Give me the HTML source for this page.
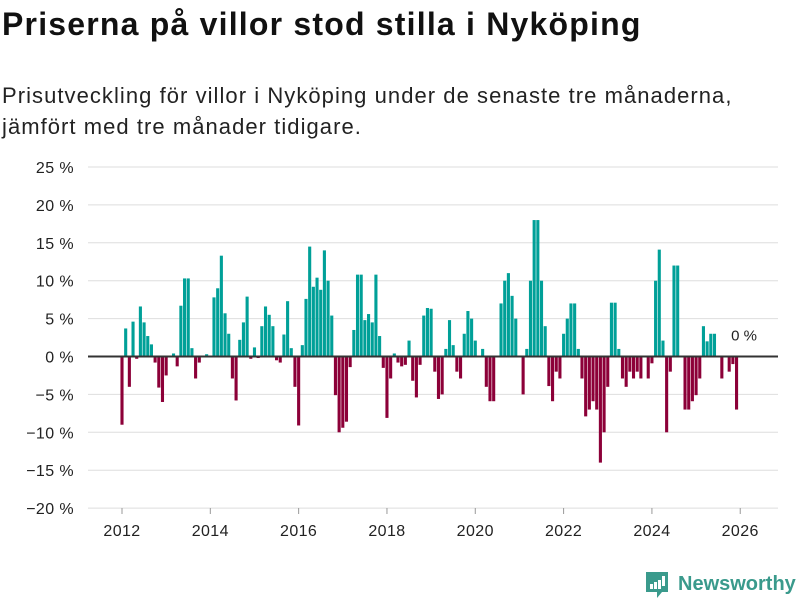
<!DOCTYPE html>
<html><head><meta charset="utf-8">
<style>
body{margin:0;background:#fff;width:800px;height:600px;overflow:hidden;font-family:"Liberation Sans",sans-serif;color:#111}
#title{position:absolute;left:2px;top:6px;font-size:32px;font-weight:bold;margin:0;letter-spacing:1.2px;white-space:nowrap}
#sub{position:absolute;left:2px;top:80px;font-size:22px;line-height:31px;margin:0;color:#222;letter-spacing:1.05px;white-space:nowrap}
svg{position:absolute;left:0;top:0}
</style></head><body>
<h1 id="title">Priserna på villor stod stilla i Nyköping</h1>
<p id="sub">Prisutveckling för villor i Nyköping under de senaste tre månaderna,<br>jämfört med tre månader tidigare.</p>
<svg id="chart" width="800" height="600"></svg>
<script>
const startYear = 2012;
const values = [-9.0,3.7,-4.0,4.6,-0.3,6.6,4.5,2.7,1.6,-0.8,-4.1,-6.0,-2.5,0,0.4,-1.3,6.7,10.3,10.3,1.1,-2.9,-0.8,0,0.3,
0,7.8,9.0,13.3,5.7,3.0,-2.9,-5.8,2.2,4.5,7.9,-0.3,1.2,-0.2,4.0,6.6,5.5,4.0,-0.5,-0.8,2.9,7.3,1.1,-4.0,
-9.1,1.5,7.6,14.5,9.2,10.4,8.8,14.0,10.0,5.4,-5.1,-10.0,-9.4,-8.6,-1.4,3.5,10.8,10.8,4.8,5.6,4.5,10.8,2.7,-1.5,
-8.1,-2.9,0.4,-0.8,-1.3,-1.1,2.1,-3.2,-5.4,-1.1,5.4,6.4,6.3,-2.0,-5.6,-5.0,1.0,4.8,1.5,-2.0,-2.9,3.0,
6.0,5.0,2.1,0,1.0,-4.0,-5.9,-5.9,0,7.0,10.0,11.0,8.0,5.0,0,-5.0,1.0,10.0,18.0,18.0,10.0,4.0,-3.9,-5.9,
-2.0,-2.9,3.0,5.0,7.0,7.0,1.0,-2.9,-7.9,-7.0,-5.9,-7.0,-14.0,-10.0,-4.0,7.1,7.1,1.0,-2.9,-4.0,-2.0,-2.9,-2.0,-2.9,
0,-2.9,-0.9,10.0,14.1,2.1,-10.0,-2.0,12.0,12.0,0,-7.0,-7.0,-5.9,-5.1,-2.9,4.0,2.0,3.0,3.0,0,-2.9,0,-2.0,-1.0,-7.0];
const yTicks = [25,20,15,10,5,0,-5,-10,-15,-20];
const yTickLabels = ["25 %","20 %","15 %","10 %","5 %","0 %","−5 %","−10 %","−15 %","−20 %"];
const xTicks = [2012,2014,2016,2018,2020,2022,2024,2026];

const NS="http://www.w3.org/2000/svg";
const svg=document.getElementById('chart');
const y=v=>356.5-v*7.58;
const mw=3.68;
const x=i=>122+i*mw;
function mk(t,a){const e=document.createElementNS(NS,t);for(const k in a)e.setAttribute(k,a[k]);svg.appendChild(e);return e;}
yTicks.forEach((t,i)=>{
  const g=mk('line',{x1:88,x2:778,y1:y(t),y2:y(t),stroke:'#dedede','stroke-width':1});
  
  
  const l=mk('text',{x:74,y:y(t)+6,'text-anchor':'end','font-size':16,fill:'#222','font-family':'Liberation Sans, sans-serif','letter-spacing':0.4});
  l.textContent=yTickLabels[i];
  
  
});
xTicks.forEach(yr=>{
  const xx=x((yr-startYear)*12);
  const tk=mk('line',{x1:xx,x2:xx,y1:508,y2:514,stroke:'#999','stroke-width':1});
  
  
  const l=mk('text',{x:xx,y:536,'text-anchor':'middle','font-size':16,fill:'#222','font-family':'Liberation Sans, sans-serif','letter-spacing':0.4});
  l.textContent=yr;
  
  
});
values.forEach((v,i)=>{
  if(v===0)return;
  const bw=3.1;
  const r=mk('rect',{x:x(i)-bw/2,y:Math.min(y(v),y(0)),width:bw,height:Math.abs(y(v)-y(0)),fill:v>0?'#00a098':'#8c0038'});
  
  
});
const z=mk('line',{x1:88,x2:778,y1:y(0),y2:y(0),stroke:'#333','stroke-width':2});


const lab=mk('text',{x:744,y:y(0)-16,'text-anchor':'middle','font-size':15,fill:'#222','font-family':'Liberation Sans, sans-serif'});
lab.textContent=Math.round(values[values.length-1]*0)+' %';


const lg=mk('g',{});


const ic=document.createElementNS(NS,'path');
ic.setAttribute('d','M646 572h22v20h-6l-5 6v-6h-11z');
ic.setAttribute('fill','#3a9a8c');


lg.appendChild(ic);
[[650,584,3,5],[654,582,3,7],[658,580,3,9],[662,576,3,10]].forEach(b=>{const r=document.createElementNS(NS,'rect');r.setAttribute('x',b[0]);r.setAttribute('y',b[1]);r.setAttribute('width',b[2]);r.setAttribute('height',b[3]);r.setAttribute('fill','#fff');lg.appendChild(r);});
const lt=document.createElementNS(NS,'text');
lt.setAttribute('x',678);lt.setAttribute('y',590);lt.setAttribute('font-size',20);lt.setAttribute('font-weight','bold');lt.setAttribute('fill','#3a9a8c');lt.setAttribute('font-family','Liberation Sans, sans-serif');
lt.textContent='Newsworthy';


lg.appendChild(lt);
</script>
</body></html>
